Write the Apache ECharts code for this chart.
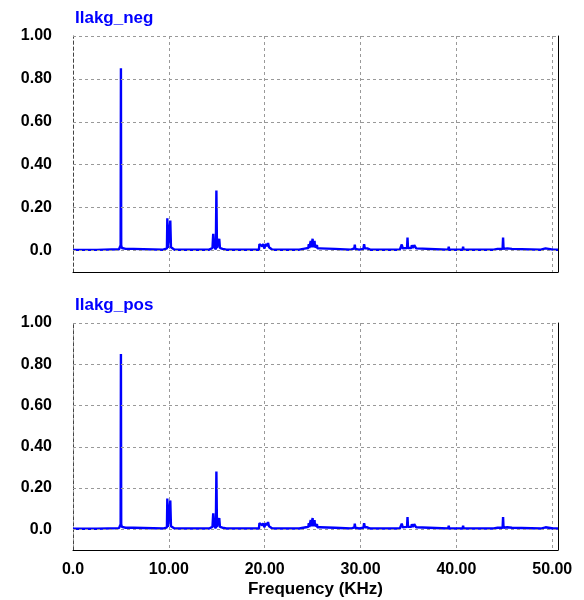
<!DOCTYPE html>
<html>
<head>
<meta charset="utf-8">
<title>Ilakg spectrum</title>
<script src="https://cdn.jsdelivr.net/npm/echarts@6/dist/echarts.min.js"></script>
<style>
  html, body { margin: 0; padding: 0; background: #fff; }
  #chartmain { width: 584px; height: 600px; }
</style>
</head>
<body>
<div id="chartmain"></div>
<script>
// 频谱数据 [频率 KHz, 幅值]
var ilakgNeg = [
  [0, 0.003], [2.5, 0.003], [2.6, 0.006], [4.8, 0.006], [4.92, 0.012], [4.97, 0.025],
  [5.0, 0.85], [5.03, 0.025], [5.1, 0.012], [5.5, 0.008], [6.3, 0.008], [6.4, 0.004],
  [9.4, 0.004], [9.6, 0.008], [9.8, 0.01], [9.84, 0.15], [9.9, 0.012], [10.0, 0.005],
  [10.1, 0.012], [10.15, 0.14], [10.22, 0.015], [10.4, 0.008], [10.6, 0.004],
  [14.2, 0.004], [14.3, 0.008], [14.55, 0.012], [14.63, 0.078], [14.7, 0.02], [14.9, 0.005],
  [14.96, 0.28], [15.02, 0.012], [15.2, 0.015], [15.26, 0.055], [15.33, 0.012], [15.6, 0.008],
  [16.0, 0.004], [18.7, 0.004], [18.8, 0.01], [18.9, 0.004], [19.4, 0.004], [19.45, 0.03],
  [19.55, 0.025], [19.65, 0.03], [19.75, 0.02], [19.85, 0.03], [19.95, 0.01], [20.05, 0.005],
  [20.15, 0.03], [20.25, 0.02], [20.35, 0.035], [20.45, 0.015], [20.6, 0.008], [20.8, 0.004],
  [23.6, 0.004], [23.7, 0.008], [24.3, 0.01], [24.55, 0.012], [24.6, 0.03], [24.65, 0.012],
  [24.75, 0.012], [24.8, 0.045], [24.85, 0.015], [24.95, 0.015], [25.0, 0.055], [25.05, 0.015],
  [25.15, 0.015], [25.2, 0.045], [25.25, 0.015], [25.4, 0.015], [25.45, 0.025], [25.5, 0.01],
  [25.75, 0.01], [27.3, 0.008], [27.4, 0.004], [29.0, 0.004], [29.1, 0.01], [29.35, 0.01], [29.4, 0.028],
  [29.45, 0.008], [29.85, 0.004], [30.3, 0.008], [30.37, 0.03], [30.45, 0.01], [30.7, 0.01],
  [30.73, 0.016], [30.8, 0.008], [31.0, 0.004],
  [34.1, 0.004], [34.2, 0.01], [34.3, 0.028], [34.4, 0.01], [34.85, 0.012], [34.9, 0.06], [34.95, 0.012],
  [35.3, 0.012], [35.35, 0.025], [35.45, 0.012], [35.6, 0.025], [35.8, 0.01], [35.9, 0.004],
  [39.15, 0.004], [39.2, 0.018], [39.25, 0.004], [40.65, 0.004], [40.7, 0.018], [40.75, 0.004],
  [43.9, 0.004], [44.0, 0.012], [44.3, 0.008], [44.82, 0.008], [44.87, 0.06], [44.92, 0.008],
  [45.3, 0.01], [45.8, 0.008], [45.85, 0.015], [45.9, 0.004], [48.8, 0.004], [48.9, 0.008],
  [49.3, 0.01], [49.4, 0.004], [50.1, 0.004], [50.15, 0.008], [50.2, 0.004], [50.6, 0.004]
];
var ilakgPos = ilakgNeg.slice();   // 两图一致
var titles = ['Ilakg_neg', 'Ilakg_pos'];
var xTicks = [0, 10, 20, 30, 40, 50];
var yTicks = [0, 0.2, 0.4, 0.6, 0.8, 1.0];

function fmt(v){
    if (Math.abs(v) < 1e-9) return '0.0';
    return v.toFixed(2);
}
function isYTick(v){
    for (var k = 0; k < yTicks.length; k++) {
        if (Math.abs(yTicks[k] - v) < 1e-6) return true;
    }
    return false;
}

var myChart = echarts.init(document.getElementById('chartmain'));
var grids = [
    { left: 73, right: 26, top: 36, height: 236, outerBoundsMode: 'none' },
    { left: 73, right: 26, top: 323, height: 227, outerBoundsMode: 'none' }
];
var fontFam = 'Liberation Sans, Arial, sans-serif';
var labelFont = { color: '#000', fontSize: 16, fontWeight: 'bold', fontFamily: fontFam };
var dash = { color: '#999', type: [3, 3], width: 1 };

var xAxis = [], yAxis = [], series = [];
for (var i = 0; i < 2; i++) {
    xAxis.push({
        type: 'value', gridIndex: i, min: 0, max: 50.6, interval: 10,
        axisLine: { show: true, onZero: false, lineStyle: { color: '#000', width: 1 } },
        axisTick: { show: false },
        splitLine: { show: true, lineStyle: dash },
        axisLabel: Object.assign({
            show: i === 1, margin: 12,
            formatter: function(v){ return xTicks.indexOf(Math.round(v * 100) / 100) >= 0 ? fmt(v) : ''; }
        }, labelFont),
        name: i === 1 ? 'Frequency (KHz)' : '',
        nameLocation: 'middle', nameGap: 31,
        nameTextStyle: { color: '#000', fontSize: 17, fontWeight: 'bold', fontFamily: fontFam }
    });
    // 刻度从 -0.1 开始, 只显示 0.0~1.00 的标签
    yAxis.push({
        type: 'value', gridIndex: i, min: -0.1, max: 1.0, interval: 0.1,
        axisLine: { show: true, lineStyle: { color: '#444', type: [3, 3], width: 1 } },
        axisTick: { show: false },
        splitLine: { show: false },
        axisLabel: Object.assign({
            margin: 21,
            formatter: function(v){ return isYTick(v) ? fmt(v) : ''; }
        }, labelFont)
    });
    // 右边框
    yAxis.push({
        type: 'value', gridIndex: i, position: 'right', min: -0.1, max: 1.0,
        axisLine: { show: true, lineStyle: { color: '#000', width: 1 } },
        axisTick: { show: false }, axisLabel: { show: false }, splitLine: { show: false }
    });
    // 横向网格线
    series.push({
        type: 'line', xAxisIndex: i, yAxisIndex: i * 2, data: [], z: 1,
        markLine: {
            silent: true, symbol: ['none', 'none'], label: { show: false },
            lineStyle: dash, animation: false,
            data: yTicks.map(function(t){ return { yAxis: t }; })
        }
    });
    series.push({
        name: titles[i], type: 'line', z: 3,
        xAxisIndex: i, yAxisIndex: i * 2,
        data: i === 0 ? ilakgNeg : ilakgPos,
        showSymbol: false,
        lineStyle: { color: '#0000ff', width: 2.4 },
        itemStyle: { color: '#0000ff' }
    });
}

var option = {
    animation: false,
    backgroundColor: '#fff',
    title: [
        { text: titles[0], left: 70, top: 5, textStyle: { color: '#0000ff', fontSize: 17, fontWeight: 'bold', fontFamily: fontFam } },
        { text: titles[1], left: 70, top: 292, textStyle: { color: '#0000ff', fontSize: 17, fontWeight: 'bold', fontFamily: fontFam } }
    ],
    grid: grids,
    xAxis: xAxis,
    yAxis: yAxis,
    series: series
};
myChart.setOption(option);
</script>
</body>
</html>
